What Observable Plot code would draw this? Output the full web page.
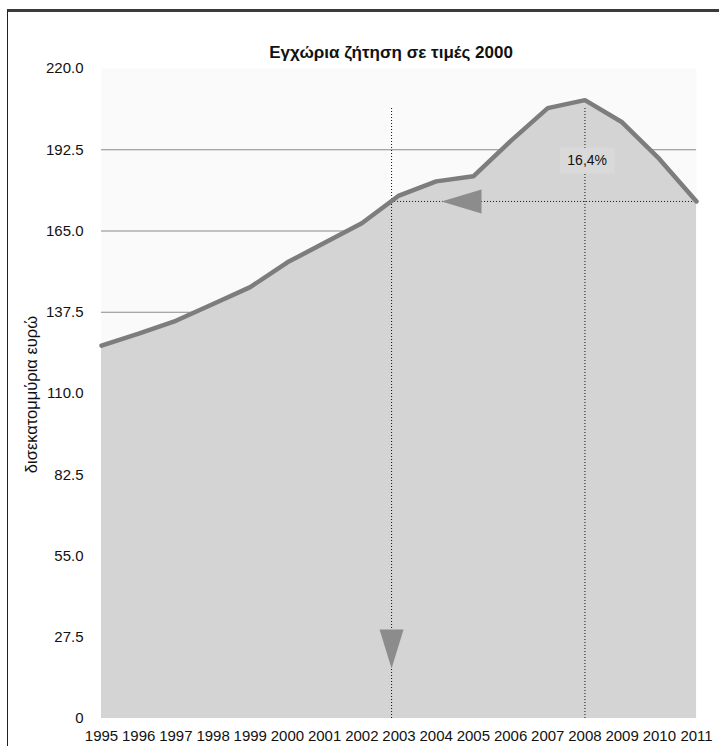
<!DOCTYPE html>
<html>
<head>
<meta charset="utf-8">
<script src="https://cdn.jsdelivr.net/npm/d3@7"></script>
<script src="https://cdn.jsdelivr.net/npm/@observablehq/plot@0.6"></script>
<style>
  html, body { margin: 0; padding: 0; background: #fff; }
  #wrap { position: relative; width: 719px; height: 746px; overflow: hidden; font-family: "Liberation Sans", Arial, sans-serif; }
  #border { position: absolute; left: 7px; top: 9px; width: 800px; height: 800px; border-top: 3px solid #3a3a3a; border-left: 1.5px solid #222; box-sizing: border-box; }
  #chart { position: absolute; left: 0; top: 0; }
</style>
</head>
<body>
<div id="wrap"><div id="border"></div><div id="chart"></div></div>
<script>
// ---- data ----
const years = [1995, 1996, 1997, 1998, 1999, 2000, 2001, 2002, 2003, 2004, 2005, 2006, 2007, 2008, 2009, 2010, 2011];
const demand = [126.2, 130.3, 134.6, 140.3, 146.0, 154.4, 161.0, 167.6, 177.0, 181.8, 183.5, 195.4, 206.6, 209.3, 201.8, 189.4, 175.0];
const yTicks = [0, 27.5, 55, 82.5, 110, 137.5, 165, 192.5, 220];
const gridValues = [27.5, 55, 82.5, 110, 137.5, 165, 192.5];
const titleText = "Εγχώρια ζήτηση σε τιμές 2000";
const yTitle = "δισεκατομμύρια ευρώ";
// annotations (in data units)
const vLines = [{x: 2002.8, y1: 0, y2: 206.7}, {x: 2008, y1: 0, y2: 206.7}];
const hLines = [{y: 175.0, x1: 2002.8, x2: 2011}];
const pctLabel = [{x: 2008.06, y: 188.8, text: "16,4%"}];
const leftArrow = [{x: 2004.68, y: 175.0}];
const downArrow = [{x: 2002.8, y: 23.5}];

const rows = years.map((yr, i) => ({year: yr, value: demand[i]}));

const triLeft = {draw(ctx) { ctx.moveTo(-20, 0); ctx.lineTo(20, -12); ctx.lineTo(20, 12); ctx.closePath(); }};
const triDown = {draw(ctx) { ctx.moveTo(0, 19.5); ctx.lineTo(-12, -19.5); ctx.lineTo(12, -19.5); ctx.closePath(); }};
const box = {draw(ctx) { ctx.rect(-27.5, -13, 55, 26); }};

const chart = Plot.plot({
  width: 719,
  height: 746,
  marginLeft: 101,
  marginRight: 23,
  marginTop: 68,
  marginBottom: 28,
  style: {fontFamily: "'Liberation Sans', Arial, sans-serif", fontSize: "15px", color: "#111", background: "transparent"},
  x: {domain: [1995, 2011], label: null},
  y: {domain: [0, 220], label: null},
  marks: [
    Plot.frame({fill: "#fafafa", stroke: null}),
    Plot.ruleY(gridValues, {stroke: "#8a8a8a", strokeWidth: 1}),
    Plot.areaY(rows, {x: "year", y: "value", fill: "#d4d4d4"}),
    Plot.ruleX(vLines, {x: "x", y1: "y1", y2: "y2", stroke: "#111", strokeWidth: 1, strokeDasharray: "1,2"}),
    Plot.ruleY(hLines, {y: "y", x1: "x1", x2: "x2", stroke: "#111", strokeWidth: 1, strokeDasharray: "1,2"}),
    Plot.dot(pctLabel, {x: "x", y: "y", symbol: box, r: 10, fill: "#d9d9d9", stroke: null}),
    Plot.text(pctLabel, {x: "x", y: "y", text: "text", fontSize: 14, fill: "#111"}),
    Plot.lineY(rows, {x: "year", y: "value", stroke: "#7d7d7d", strokeWidth: 4.5, strokeLinejoin: "miter"}),
    Plot.dot(leftArrow, {x: "x", y: "y", symbol: triLeft, r: 10, fill: "#8c8c8c", stroke: null}),
    Plot.dot(downArrow, {x: "x", y: "y", symbol: triDown, r: 10, fill: "#8c8c8c", stroke: null}),
    Plot.axisY(yTicks, {tickSize: 0, tickPadding: 18, fontSize: 15, label: null,
      tickFormat: d => d === 0 ? "0" : d.toFixed(1)}),
    Plot.axisX(years, {tickSize: 0, tickPadding: 12, fontSize: 15, label: null,
      tickFormat: d => String(d)}),
    Plot.text([titleText], {frameAnchor: "top", dy: -23, dx: -8, fontSize: 17, fontWeight: "bold", fill: "#111"}),
    Plot.text([yTitle], {frameAnchor: "left", textAnchor: "middle", dx: -70, dy: 1, rotate: -90, fontSize: 16.5, fill: "#111"})
  ]
});
document.getElementById("chart").appendChild(chart);
</script>
</body>
</html>
